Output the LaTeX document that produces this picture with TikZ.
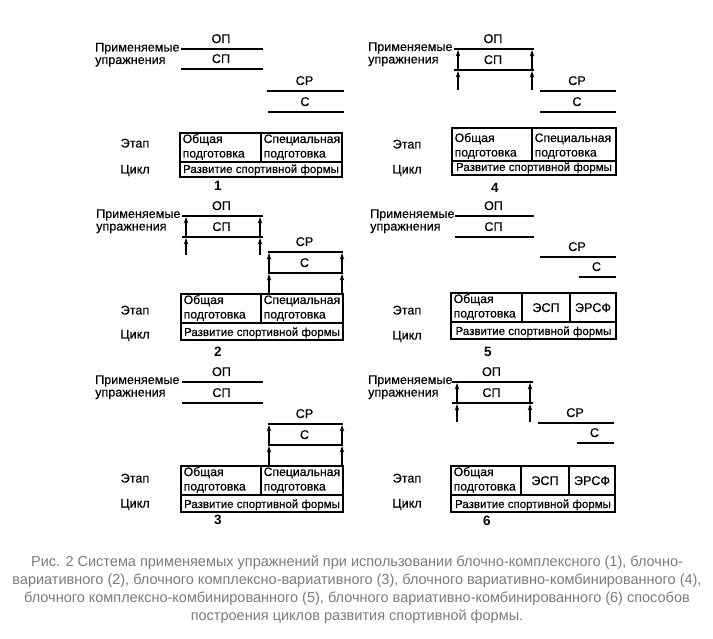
\documentclass[tikz,border=0pt]{standalone}
\usepackage{fontspec}
\setmainfont{Liberation Sans}
\newfontfamily\diafont[FakeBold=0.35]{Liberation Sans}
\usetikzlibrary{arrows.meta,fadings}
\definecolor{capgray}{HTML}{7C7C7C}
\tikzfading[name=sidefade, left color=transparent!100, middle color=transparent!0, right color=transparent!100]
\tikzset{
  bar/.style={line width=1.9pt},
  frm/.style={line width=1.9pt},
  arr/.style={line width=1.2pt,-{Stealth[length=6.5pt,width=4.4pt]}},
  lbl/.style={inner sep=0pt,font=\diafont\fontsize{12.6}{14}\selectfont},
  cell/.style={inner sep=0pt,font=\diafont\fontsize{12.2}{13}\selectfont},
  rowtxt/.style={inner sep=0pt,font=\diafont\fontsize{11.5}{13}\selectfont},
  num/.style={inner sep=0pt,font=\fontsize{13.5}{15}\selectfont\bfseries},
  captxt/.style={inner sep=0pt,font=\fontsize{14.5}{16}\selectfont,text=capgray},
}
% side label: x, baseline y, name
\newcommand\sidelab[3]{%
  \node[lbl,anchor=base west] (#3a) at (#1,#2) {Применяемые};
  \node[lbl,anchor=base west] (#3b) at (#1,#2+12.5) {упражнения};}
% exercise line: name, x1, x2, y, label
\newcommand\exline[5]{%
  \coordinate (#1L) at (#2,#4);
  \coordinate (#1R) at (#3,#4);
  \draw[bar] (#1L) -- (#1R);
  \node[lbl,anchor=base] (#1t) at ({(#2+#3)/2-1},#4-6) {#5};}
% up arrow: name, x, ystart, yend
\newcommand\uparr[4]{%
  \coordinate (#1s) at (#2,#3);
  \coordinate (#1e) at (#2,#4);
  \draw[arr] (#1s) -- (#1e);}
% stage labels: name, x, y Этап, y Цикл (visual centres)
\newcommand\stagelab[4]{%
  \node[lbl,anchor=base] (#1a) at (#2,#3+4.5) {Этап};
  \node[lbl,anchor=base] (#1b) at (#2,#4+4.5) {Цикл};}
% two-cell box: name, xl, xdiv, xr, ytop, ymid, ybot
\newcommand\boxtwo[7]{%
  \draw[frm] (#2,#5) rectangle (#4,#7);
  \draw[frm] (#2,#6) -- (#4,#6);
  \draw[frm] (#3,#5) -- (#3,#6);
  \node[cell,anchor=base west] (#1a) at (#2+2.5,#6-19) {Общая};
  \node[cell,anchor=base west] (#1b) at (#2+2.5,#6-4.5) {подготовка};
  \node[cell,anchor=base west] (#1c) at (#3+2.5,#6-19) {Специальная};
  \node[cell,anchor=base west] (#1d) at (#3+2.5,#6-4.5) {подготовка};
  \node[rowtxt,anchor=base] (#1e) at ({(#2+#4)/2},#7-4) {Развитие спортивной формы};}
% three-cell box: name, xl, d1, d2, xr, ytop, ymid, ybot
\newcommand\boxthree[8]{%
  \draw[frm] (#2,#6) rectangle (#5,#8);
  \draw[frm] (#2,#7) -- (#5,#7);
  \draw[frm] (#3,#6) -- (#3,#7);
  \draw[frm] (#4,#6) -- (#4,#7);
  \node[cell,anchor=base west] (#1a) at (#2+2.5,#7-19) {Общая};
  \node[cell,anchor=base west] (#1b) at (#2+2.5,#7-4.5) {подготовка};
  \node[lbl,anchor=base] (#1c) at ({(#3+#4)/2},{(#6+#7)/2+4.5}) {ЭСП};
  \node[lbl,anchor=base] (#1d) at ({(#4+#5)/2},{(#6+#7)/2+4.5}) {ЭРСФ};
  \node[rowtxt,anchor=base] (#1e) at ({(#2+#5)/2},#8-4) {Развитие спортивной формы};}
\begin{document}
\begin{tikzpicture}[x=1pt,y=-1pt]
\useasboundingbox (0,0) rectangle (713,639);
\fill[white] (0,0) rectangle (713,639);
% soft shadow at the bottom edge
\shade[top color=white,bottom color=black!14,path fading=sidefade] (20,624) rectangle (693,639);
% ---------- panel 1 ----------
\sidelab{95}{51.5}{s1}
\exline{p1op}{181}{263}{49}{ОП}
\exline{p1sp}{181}{263}{69}{СП}
\exline{p1sr}{267}{344}{91}{СР}
\exline{p1c}{268}{344}{112}{С}
\boxtwo{b1}{180}{261}{342}{133}{162}{177}
\stagelab{e1}{135}{143}{169}
\node[num,anchor=base] (n1) at (218,190.5) {1};
% ---------- panel 2 ----------
\sidelab{96}{218}{s2}
\exline{p2op}{182}{263}{216}{ОП}
\exline{p2sp}{182}{263}{237}{СП}
\exline{p2sr}{268}{343}{252}{СР}
\exline{p2c}{268}{343}{273}{С}
\uparr{a21}{186}{237}{217}
\uparr{a22}{260}{237}{217}
\uparr{a23}{186}{255}{238}
\uparr{a24}{260}{255}{238}
\uparr{a25}{269}{273}{253}
\uparr{a26}{342}{273}{253}
\uparr{a27}{269}{294}{274}
\uparr{a28}{342}{294}{274}
\boxtwo{b2}{181}{261}{343}{294}{323}{340}
\stagelab{e2}{135}{310}{334}
\node[num,anchor=base] (n2) at (218,357) {2};
% ---------- panel 3 ----------
\sidelab{95}{384}{s3}
\exline{p3op}{182}{263}{382}{ОП}
\exline{p3sp}{182}{263}{403}{СП}
\exline{p3sr}{268}{343}{424}{СР}
\exline{p3c}{268}{343}{445}{С}
\uparr{a31}{269}{445}{425}
\uparr{a32}{342}{445}{425}
\uparr{a33}{269}{466}{446}
\uparr{a34}{342}{466}{446}
\boxtwo{b3}{181}{261}{343}{466}{495}{512}
\stagelab{e3}{135}{478}{503}
\node[num,anchor=base] (n3) at (218,524.5) {3};
% ---------- panel 4 ----------
\sidelab{368}{51}{s4}
\exline{p4op}{454}{534}{49}{ОП}
\exline{p4sp}{454}{534}{70}{СП}
\exline{p4sr}{540}{616}{91}{СР}
\exline{p4c}{540}{616}{112}{С}
\uparr{a41}{458}{70}{50}
\uparr{a42}{532}{70}{50}
\uparr{a43}{458}{90}{71}
\uparr{a44}{532}{90}{71}
\boxtwo{b4}{452}{532}{616}{128}{161}{175}
\stagelab{e4}{407}{144}{169}
\node[num,anchor=base] (n4) at (495,193) {4};
% ---------- panel 5 ----------
\sidelab{370}{218}{s5}
\exline{p5op}{455}{534}{216}{ОП}
\exline{p5sp}{455}{534}{237}{СП}
\exline{p5sr}{540}{616}{257}{СР}
\exline{p5c}{579}{616}{277}{С}
\boxthree{b5}{451}{522}{570}{616}{293}{322}{339}
\stagelab{e5}{407}{310}{335}
\node[num,anchor=base] (n5) at (488,356) {5};
% ---------- panel 6 ----------
\sidelab{368}{384}{s6}
\exline{p6op}{452}{533}{382}{ОП}
\exline{p6sp}{452}{533}{403}{СП}
\exline{p6sr}{538}{614}{423}{СР}
\exline{p6c}{577}{614}{443}{С}
\uparr{a61}{457}{403}{383}
\uparr{a62}{530}{403}{383}
\uparr{a63}{457}{422}{404}
\uparr{a64}{530}{422}{404}
\boxthree{b6}{451}{521}{569}{615}{466}{495}{512}
\stagelab{e6}{407}{478}{503}
\node[num,anchor=base] (n6) at (487,525) {6};
% ---------- caption ----------
\node[captxt,anchor=base] (c1) at (357,566) {Рис. 2 Система применяемых упражнений при использовании блочно-комплексного (1), блочно-};
\node[captxt,anchor=base] (c2) at (357,584) {вариативного (2), блочного комплексно-вариативного (3), блочного вариативно-комбинированного (4),};
\node[captxt,anchor=base] (c3) at (357,602) {блочного комплексно-комбинированного (5), блочного вариативно-комбинированного (6) способов};
\node[captxt,anchor=base] (c4) at (357,620) {построения циклов развития спортивной формы.};
\end{tikzpicture}
\end{document}
